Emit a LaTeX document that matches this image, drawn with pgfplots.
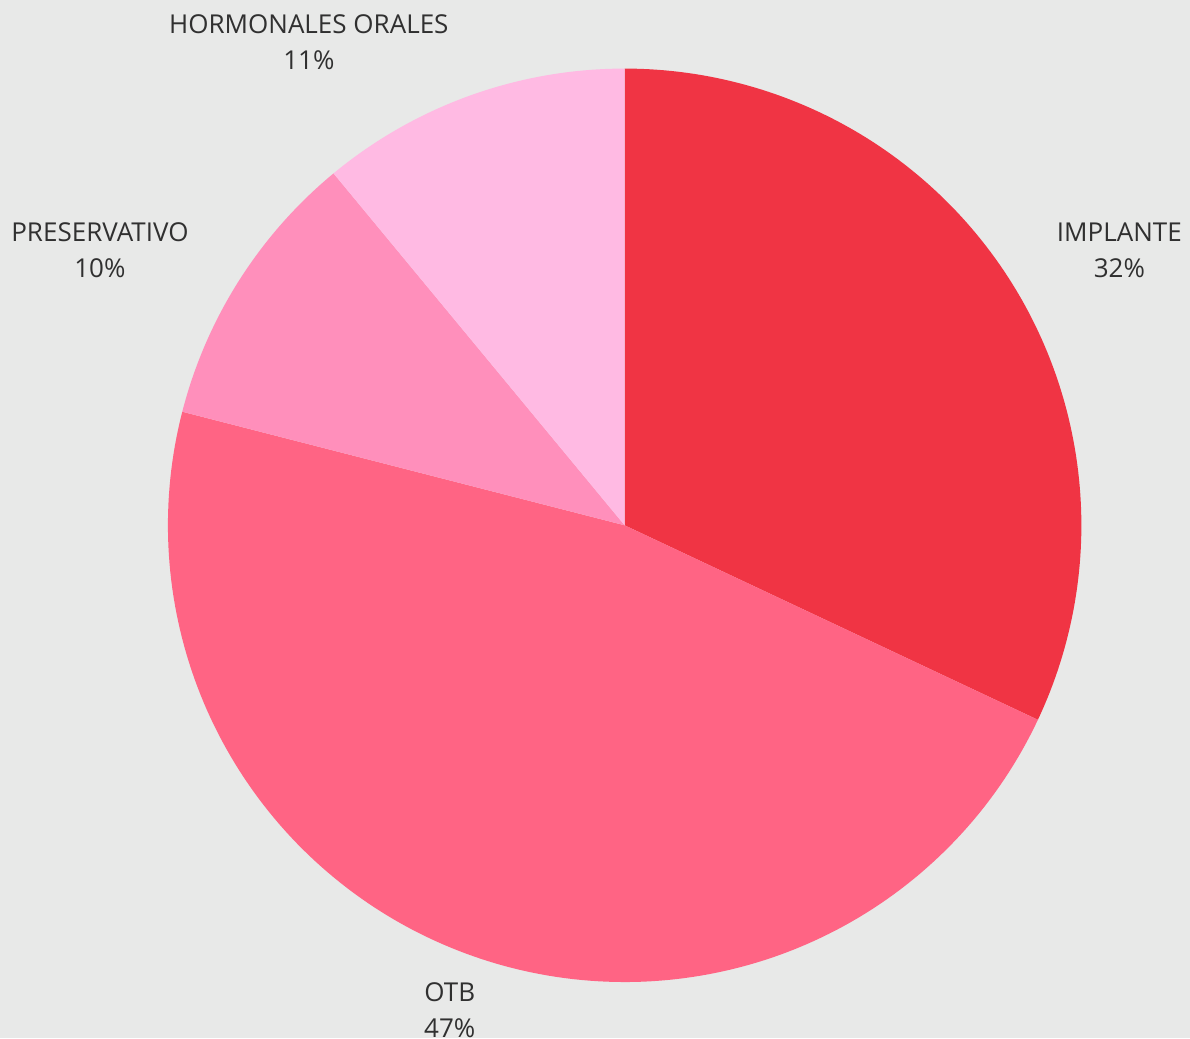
\documentclass[border=0pt]{standalone}
\usepackage{pgfplots}
\pgfplotsset{compat=1.18}
\usepackage{fontspec}
\setmainfont{Open Sans}
\definecolor{bg}{HTML}{E8E9E8}
\definecolor{cImp}{HTML}{F03444}
\definecolor{cOtb}{HTML}{FF6484}
\definecolor{cPre}{HTML}{FF8FBB}
\definecolor{cHor}{HTML}{FFBAE3}
\definecolor{txt}{HTML}{303030}
\tikzset{lbl/.style={font=\fontsize{7.4pt}{10.2pt}\selectfont, text=txt, align=center, inner sep=0pt}}
% percentages
\def\pImp{32}\def\pOtb{47}\def\pPre{10}\def\pHor{11}
\def\R{457}
\begin{document}
\begin{tikzpicture}
\useasboundingbox (0,0) rectangle (11.9cm,10.38cm);
\clip (0,0) rectangle (11.9cm,10.38cm);
\fill[bg] (0,0) rectangle (11.9cm,10.38cm);
\pgfmathsetmacro{\aA}{90}
\pgfmathsetmacro{\aB}{\aA-3.6*\pImp}
\pgfmathsetmacro{\aC}{\aB-3.6*\pOtb}
\pgfmathsetmacro{\aD}{\aC-3.6*\pPre}
\pgfmathsetmacro{\aE}{\aD-3.6*\pHor}
\begin{axis}[
  at={(0,0)}, anchor=south west,
  x=0.01cm, y=0.01cm,
  xmin=-625, xmax=565, ymin=-513, ymax=525,
  hide axis, clip=false,
]
\addplot[fill=cImp, draw=none, data cs=polar, domain=\aB:\aA, samples=120] {\R} -- (axis cs:0,0) -- cycle;
\addplot[fill=cOtb, draw=none, data cs=polar, domain=\aC:\aB, samples=160] {\R} -- (axis cs:0,0) -- cycle;
\addplot[fill=cPre, draw=none, data cs=polar, domain=\aD:\aC, samples=60] {\R} -- (axis cs:0,0) -- cycle;
\addplot[fill=cHor, draw=none, data cs=polar, domain=\aE:\aD, samples=60] {\R} -- (axis cs:0,0) -- cycle;
\node[lbl] at (axis cs:495,275) {IMPLANTE\\\pImp\%};
\node[lbl] at (axis cs:-175,-485) {OTB\\\pOtb\%};
\node[lbl] at (axis cs:-525,275) {PRESERVATIVO\\\pPre\%};
\node[lbl] at (axis cs:-316,483) {HORMONALES ORALES\\\pHor\%};
\end{axis}
\end{tikzpicture}
\end{document}
